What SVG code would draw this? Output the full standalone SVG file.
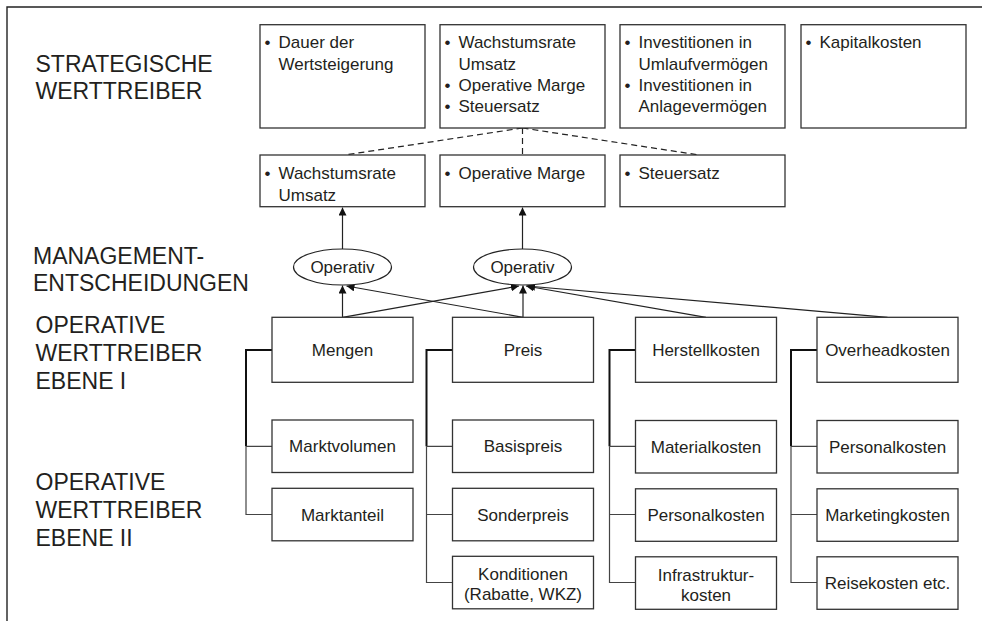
<svg xmlns="http://www.w3.org/2000/svg" width="982" height="621" viewBox="0 0 982 621">
<defs>
<style>
text{font-family:"Liberation Sans",Arial,sans-serif;fill:#231f20}
.lab{font-size:23px}
.t{font-size:17px}
.c{text-anchor:middle}
.box{fill:#fff;stroke:#333;stroke-width:1.3}
.ln{fill:none;stroke:#222;stroke-width:1.2}
.dash{fill:none;stroke:#222;stroke-width:1.2;stroke-dasharray:6 4}
.thick{fill:none;stroke:#111;stroke-width:2}
.thin{fill:none;stroke:#444;stroke-width:1.2}
</style>
<marker id="ah" viewBox="0 0 10 10" refX="10" refY="5" markerWidth="8" markerHeight="8" markerUnits="userSpaceOnUse" orient="auto">
<path d="M0,0 L10,5 L0,10 z" fill="#111"/>
</marker>
</defs>
<rect width="982" height="621" fill="#fff"/>
<path d="M7,621 V7 H982" fill="none" stroke="#222" stroke-width="1.4"/>

<g id="labels">
<text class="lab" x="35.5" y="71.7">STRATEGISCHE</text>
<text class="lab" x="35.5" y="99">WERTTREIBER</text>
<text class="lab" x="33" y="264">MANAGEMENT-</text>
<text class="lab" x="33" y="291">ENTSCHEIDUNGEN</text>
<text class="lab" x="35.5" y="332.7">OPERATIVE</text>
<text class="lab" x="35.5" y="361">WERTTREIBER</text>
<text class="lab" x="35.5" y="389.3">EBENE I</text>
<text class="lab" x="35.5" y="490">OPERATIVE</text>
<text class="lab" x="35.5" y="518">WERTTREIBER</text>
<text class="lab" x="35.5" y="546">EBENE II</text>
</g>

<g id="connectors">
<path class="dash" d="M522.5,128 L345,155 M522.5,128 V155 M522.5,128 L699,155"/>
<path class="ln" d="M342.5,249 V207.5" marker-end="url(#ah)"/>
<path class="ln" d="M522.5,249 V207.5" marker-end="url(#ah)"/>
<path class="ln" d="M342.5,317.3 V285.5" marker-end="url(#ah)"/>
<path class="ln" d="M523,317.3 L346.5,286" marker-end="url(#ah)"/>
<path class="ln" d="M342.5,317.3 L519,286" marker-end="url(#ah)"/>
<path class="ln" d="M523,317.3 V285.5" marker-end="url(#ah)"/>
<path class="ln" d="M706,317.3 L526,286" marker-end="url(#ah)"/>
<path class="ln" d="M887.5,317.3 L527,286" marker-end="url(#ah)"/>
<path class="thick" d="M272,350 H246 V446.3"/>
<path class="thin" d="M246,446.3 H272 M246,446.3 V514.5 H272"/>
<path class="thick" d="M452.5,350 H426.5 V446.3"/>
<path class="thin" d="M426.5,446.3 H452.5 M426.5,446.3 V582.5 H452.5 M426.5,514.5 H452.5"/>
<path class="thick" d="M635.5,350 H609.5 V446.3"/>
<path class="thin" d="M609.5,446.3 H635.5 M609.5,446.3 V582.5 H635.5 M609.5,514.5 H635.5"/>
<path class="thick" d="M817,350 H791 V446.3"/>
<path class="thin" d="M791,446.3 H817 M791,446.3 V582.5 H817 M791,514.5 H817"/>
</g>

<g id="s1"><rect class="box" x="260" y="24.7" width="165" height="103.3"/>
<text class="t c" x="267.5" y="48.3">•</text>
<text class="t" x="278.5" y="48.3">Dauer der</text>
<text class="t" x="278.5" y="69.5">Wertsteigerung</text></g>
<g id="s2"><rect class="box" x="440" y="24.7" width="165" height="103.3"/>
<text class="t c" x="447.5" y="48.3">•</text>
<text class="t" x="458.5" y="48.3">Wachstumsrate</text>
<text class="t" x="458.5" y="69.5">Umsatz</text>
<text class="t c" x="447.5" y="90.7">•</text>
<text class="t" x="458.5" y="90.7">Operative Marge</text>
<text class="t c" x="447.5" y="111.8">•</text>
<text class="t" x="458.5" y="111.8">Steuersatz</text></g>
<g id="s3"><rect class="box" x="620" y="24.7" width="165" height="103.3"/>
<text class="t c" x="627.5" y="48.3">•</text>
<text class="t" x="638.5" y="48.3">Investitionen in</text>
<text class="t" x="638.5" y="69.5">Umlaufvermögen</text>
<text class="t c" x="627.5" y="90.7">•</text>
<text class="t" x="638.5" y="90.7">Investitionen in</text>
<text class="t" x="638.5" y="111.8">Anlagevermögen</text></g>
<g id="s4"><rect class="box" x="801" y="24.7" width="165" height="103.3"/>
<text class="t c" x="808.5" y="48.3">•</text>
<text class="t" x="819.5" y="48.3">Kapitalkosten</text></g>

<g id="m1"><rect class="box" x="260" y="155" width="165" height="51.7"/>
<text class="t c" x="267.5" y="179">•</text>
<text class="t" x="278.5" y="179">Wachstumsrate</text>
<text class="t" x="278.5" y="200.7">Umsatz</text></g>
<g id="m2"><rect class="box" x="440" y="155" width="165" height="51.7"/>
<text class="t c" x="447.5" y="179">•</text>
<text class="t" x="458.5" y="179">Operative Marge</text></g>
<g id="m3"><rect class="box" x="620" y="155" width="165" height="51.7"/>
<text class="t c" x="627.5" y="179">•</text>
<text class="t" x="638.5" y="179">Steuersatz</text></g>

<g id="o1"><ellipse cx="342.5" cy="267" rx="49" ry="18" fill="#fff" stroke="#222" stroke-width="1.2"/>
<text class="t c" x="342.5" y="273">Operativ</text></g>
<g id="o2"><ellipse cx="522.5" cy="267" rx="49" ry="18" fill="#fff" stroke="#222" stroke-width="1.2"/>
<text class="t c" x="522.5" y="273">Operativ</text></g>

<g id="l1a"><rect class="box" x="272" y="317.3" width="141" height="65"/><text class="t c" x="342.5" y="356">Mengen</text></g>
<g id="l1b"><rect class="box" x="452.5" y="317.3" width="141" height="65"/><text class="t c" x="523" y="356">Preis</text></g>
<g id="l1c"><rect class="box" x="635.5" y="317.3" width="141" height="65"/><text class="t c" x="706" y="356">Herstellkosten</text></g>
<g id="l1d"><rect class="box" x="817" y="317.3" width="141" height="65"/><text class="t c" x="887.5" y="356">Overheadkosten</text></g>

<g id="a1"><rect class="box" x="272" y="420" width="141" height="52.5"/><text class="t c" x="342.5" y="452.3">Marktvolumen</text></g>
<g id="a2"><rect class="box" x="272" y="488.3" width="141" height="52.5"/><text class="t c" x="342.5" y="520.5">Marktanteil</text></g>

<g id="b1"><rect class="box" x="452.5" y="420" width="141" height="52.5"/><text class="t c" x="523" y="452.3">Basispreis</text></g>
<g id="b2"><rect class="box" x="452.5" y="488.3" width="141" height="52.5"/><text class="t c" x="523" y="520.5">Sonderpreis</text></g>
<g id="b3"><rect class="box" x="452.5" y="556.3" width="141" height="52.5"/><text class="t c" x="523" y="579.5">Konditionen</text><text class="t c" x="523" y="600">(Rabatte, WKZ)</text></g>

<g id="c1"><rect class="box" x="635.5" y="420.5" width="141" height="52.5"/><text class="t c" x="706" y="452.8">Materialkosten</text></g>
<g id="c2"><rect class="box" x="635.5" y="488.8" width="141" height="52.5"/><text class="t c" x="706" y="521">Personalkosten</text></g>
<g id="c3"><rect class="box" x="635.5" y="556.8" width="141" height="52.5"/><text class="t c" x="706" y="580.5">Infrastruktur-</text><text class="t c" x="706" y="600.5">kosten</text></g>

<g id="d1"><rect class="box" x="817" y="420.5" width="141" height="52.5"/><text class="t c" x="887.5" y="452.8">Personalkosten</text></g>
<g id="d2"><rect class="box" x="817" y="488.8" width="141" height="52.5"/><text class="t c" x="887.5" y="521">Marketingkosten</text></g>
<g id="d3"><rect class="box" x="817" y="556.8" width="141" height="52.5"/><text class="t c" x="887.5" y="588.5">Reisekosten etc.</text></g>
</svg>
